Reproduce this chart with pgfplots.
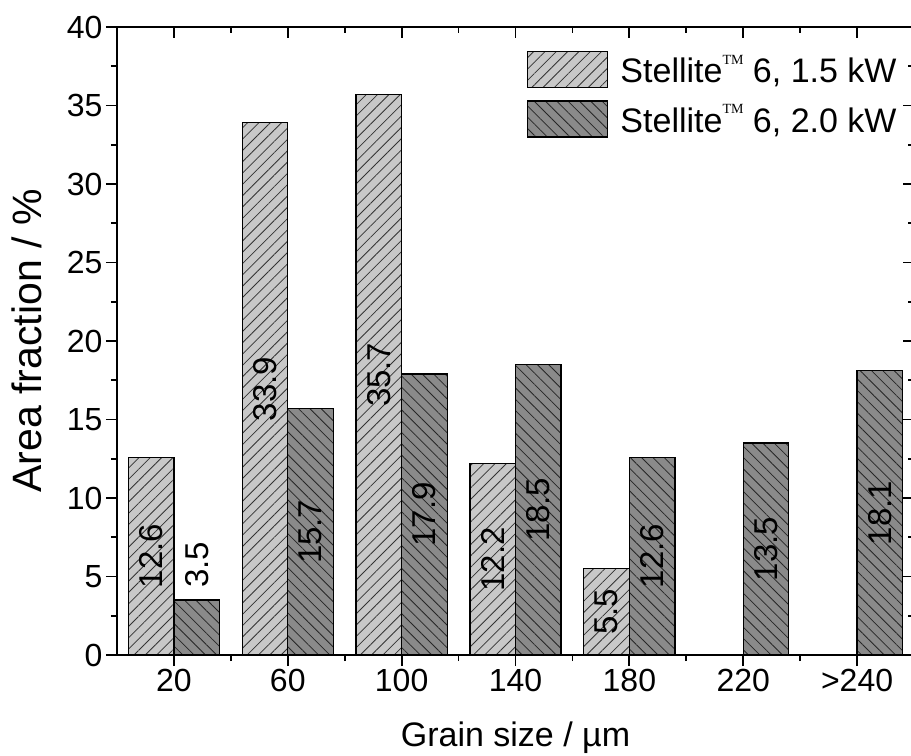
\documentclass[border=0pt]{standalone}
\usepackage{fontspec}
\setmainfont{Liberation Sans}
\newfontfamily\tmfont{Liberation Serif}
\usepackage{pgfplots}
\pgfplotsset{compat=1.18}
\usetikzlibrary{patterns.meta}

\definecolor{lightbar}{RGB}{200,200,200}
\definecolor{darkbar}{RGB}{138,138,138}
\newcommand{\tm}{\raisebox{0.55em}{\tmfont\fontsize{14}{14}\selectfont TM}}

\pgfplotsset{
  frame/.style={
    width=797pt, height=628pt, scale only axis,
    xmin=-0.5, xmax=6.5, ymin=0, ymax=40,
    xtick={0,...,6}, ytick={0,5,...,40},
    minor x tick num=1, minor y tick num=1,
    major tick length=11pt, minor tick length=6pt,
    axis line style={line width=2pt},
    every tick/.style={black, line width=1.8pt},
  },
  boxlegend/.style={legend image code/.code={\draw[##1] (0pt,-18pt) rectangle (80pt,18pt);}},
  lightstyle/.style={fill=lightbar, draw=black, line width=1.3pt,
    postaction={pattern={Lines[angle=45,distance=8pt,line width=0.8pt]}, pattern color=black!80}},
  darkstyle/.style={fill=darkbar, draw=black, line width=1.3pt,
    postaction={pattern={Lines[angle=-45,distance=8pt,line width=0.8pt]}, pattern color=black!85}},
  barlabel/.style={draw=none, fill=none, forget plot,
    nodes near coords={\pgfplotspointmeta}, point meta=explicit symbolic,
    every node near coord/.append style={rotate=90, anchor=center, inner sep=0pt,
      font=\fontsize{33}{38}\selectfont}},
}

\begin{document}
\begin{tikzpicture}
\begin{axis}[frame, name=ax,
    tick align=outside, xtick pos=left, ytick pos=left,
    xticklabels={20,60,100,140,180,220,{>240}},
    ticklabel style={font=\fontsize{32}{38}\selectfont},
    /pgf/number format/assume math mode=true,
    xlabel={Grain size / µm},
    ylabel={Area fraction / \%},
    xlabel style={font=\fontsize{34}{40}\selectfont, at={(axis description cs:0.5,-0.131)}, anchor=center},
    ylabel style={font=\fontsize{41}{48}\selectfont, at={(axis description cs:-0.113,0.5)}, anchor=center},
    ybar, bar width=0.4,
    legend style={draw=none, fill=none, at={(axis description cs:0.5144,0.962)}, anchor=north west,
      inner sep=0pt, row sep=12pt, column sep=10pt, font=\fontsize{34}{40}\selectfont},
    legend cell align=left,
  ]
  % 1.5 kW
  \addplot[lightstyle, bar shift=-0.2, boxlegend]
    coordinates {(0,12.6) (1,33.9) (2,35.7) (3,12.2) (4,5.5)};
  \addlegendentry{Stellite\tm\ 6, 1.5 kW}
  % 2.0 kW
  \addplot[darkstyle, bar shift=0.2, boxlegend]
    coordinates {(0,3.5) (1,15.7) (2,17.9) (3,18.5) (4,12.6) (5,13.5) (6,18.1)};
  \addlegendentry{Stellite\tm\ 6, 2.0 kW}
  % value labels
  \addplot[barlabel, bar shift=-0.2]
    coordinates {(0,6.3)[12.6] (1,16.95)[33.9] (2,17.85)[35.7] (3,6.1)[12.2] (4,2.75)[5.5]};
  \addplot[barlabel, bar shift=0.2]
    coordinates {(0,5.75)[3.5] (1,7.85)[15.7] (2,8.95)[17.9] (3,9.25)[18.5] (4,6.3)[12.6] (5,6.75)[13.5] (6,9.05)[18.1]};
\end{axis}
\begin{axis}[frame, tick align=inside, xtick pos=right, ytick pos=right,
    xticklabels={}, yticklabels={}]
\end{axis}
\pgfresetboundingbox
\path[use as bounding box] ([xshift=-117pt,yshift=-100pt]ax.south west) rectangle ([xshift=-3pt,yshift=27pt]ax.north east);
\end{tikzpicture}
\end{document}
